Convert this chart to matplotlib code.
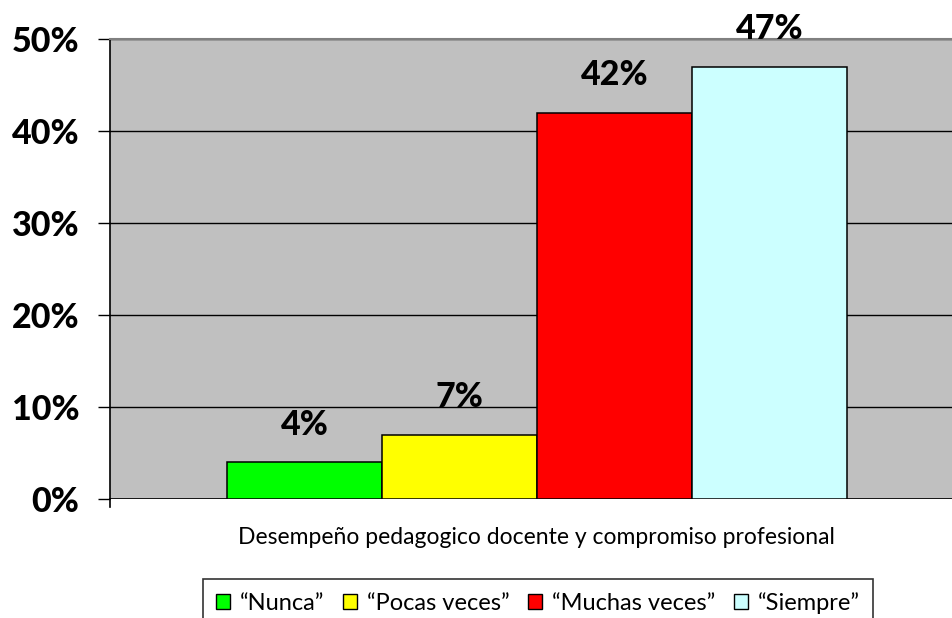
import numpy as np
import matplotlib
matplotlib.use("Agg")
import matplotlib.pyplot as plt
from matplotlib.patches import Patch

plt.rcParams["font.family"] = ["Lato", "DejaVu Sans"]

categories = ["\u201cNunca\u201d", "\u201cPocas veces\u201d", "\u201cMuchas veces\u201d", "\u201cSiempre\u201d"]
values = [4, 7, 42, 47]
colors = ["#00ff00", "#ffff00", "#ff0000", "#ccffff"]
yticks = [0, 10, 20, 30, 40, 50]
xlabel = "Desempe\u00f1o pedagogico docente y compromiso profesional"

fig = plt.figure(figsize=(9.52, 6.18), dpi=100)
W, H = 952, 618
ax = fig.add_axes([110 / W, 1 - 499 / H, (952 - 110) / W, (499 - 39) / H])
ax.set_facecolor("#c0c0c0")

x = np.arange(len(values)) - 1.5
ax.bar(x, values, width=1.0, color=colors, edgecolor="black", linewidth=1.1, zorder=3)
for xi, v in zip(x, values):
    ax.annotate(f"{v}%", (xi, v), textcoords="offset points", xytext=(0, 27),
                ha="center", va="center", fontsize=24.5, fontweight="black", zorder=4,
                annotation_clip=False)

ax.set_xlim((110 - 537) / 155, (952 - 537) / 155)
ax.set_ylim(0, 50)
ax.set_yticks(yticks)
ax.set_yticklabels([f"{t}%" for t in yticks], fontsize=24.5, fontweight="black")
ax.yaxis.grid(True, color="black", linewidth=1.0, zorder=1)
ax.set_xticks([])
ax.tick_params(axis="y", length=9, width=1.0, pad=13)
for s in ["right", "bottom"]:
    ax.spines[s].set_visible(False)
ax.spines["top"].set_color("#808080")
ax.spines["top"].set_linewidth(1.5)
ax.spines["left"].set_linewidth(1.2)
ax.axhline(0, color="black", linewidth=1.2, zorder=2)
ax.plot([0, 0], [0, -0.018], transform=ax.transAxes, color="black", lw=1.2, clip_on=False)

fig.text(536 / W, 1 - 538 / H, xlabel, ha="center", va="center", fontsize=16.5)

handles = [Patch(facecolor=c, edgecolor="black", linewidth=1.0, label=l)
           for c, l in zip(colors, categories)]
leg = fig.legend(handles=handles, loc="upper center", bbox_to_anchor=(538 / W, 1 - 579 / H),
                 ncol=4, frameon=True, fancybox=False, fontsize=17, handlelength=0.6,
                 handleheight=0.6, handletextpad=0.4, columnspacing=0.8,
                 borderpad=0.55, borderaxespad=0, edgecolor="black")
leg.get_frame().set_linewidth(1.2)

fig.savefig("out.png", dpi=100)
